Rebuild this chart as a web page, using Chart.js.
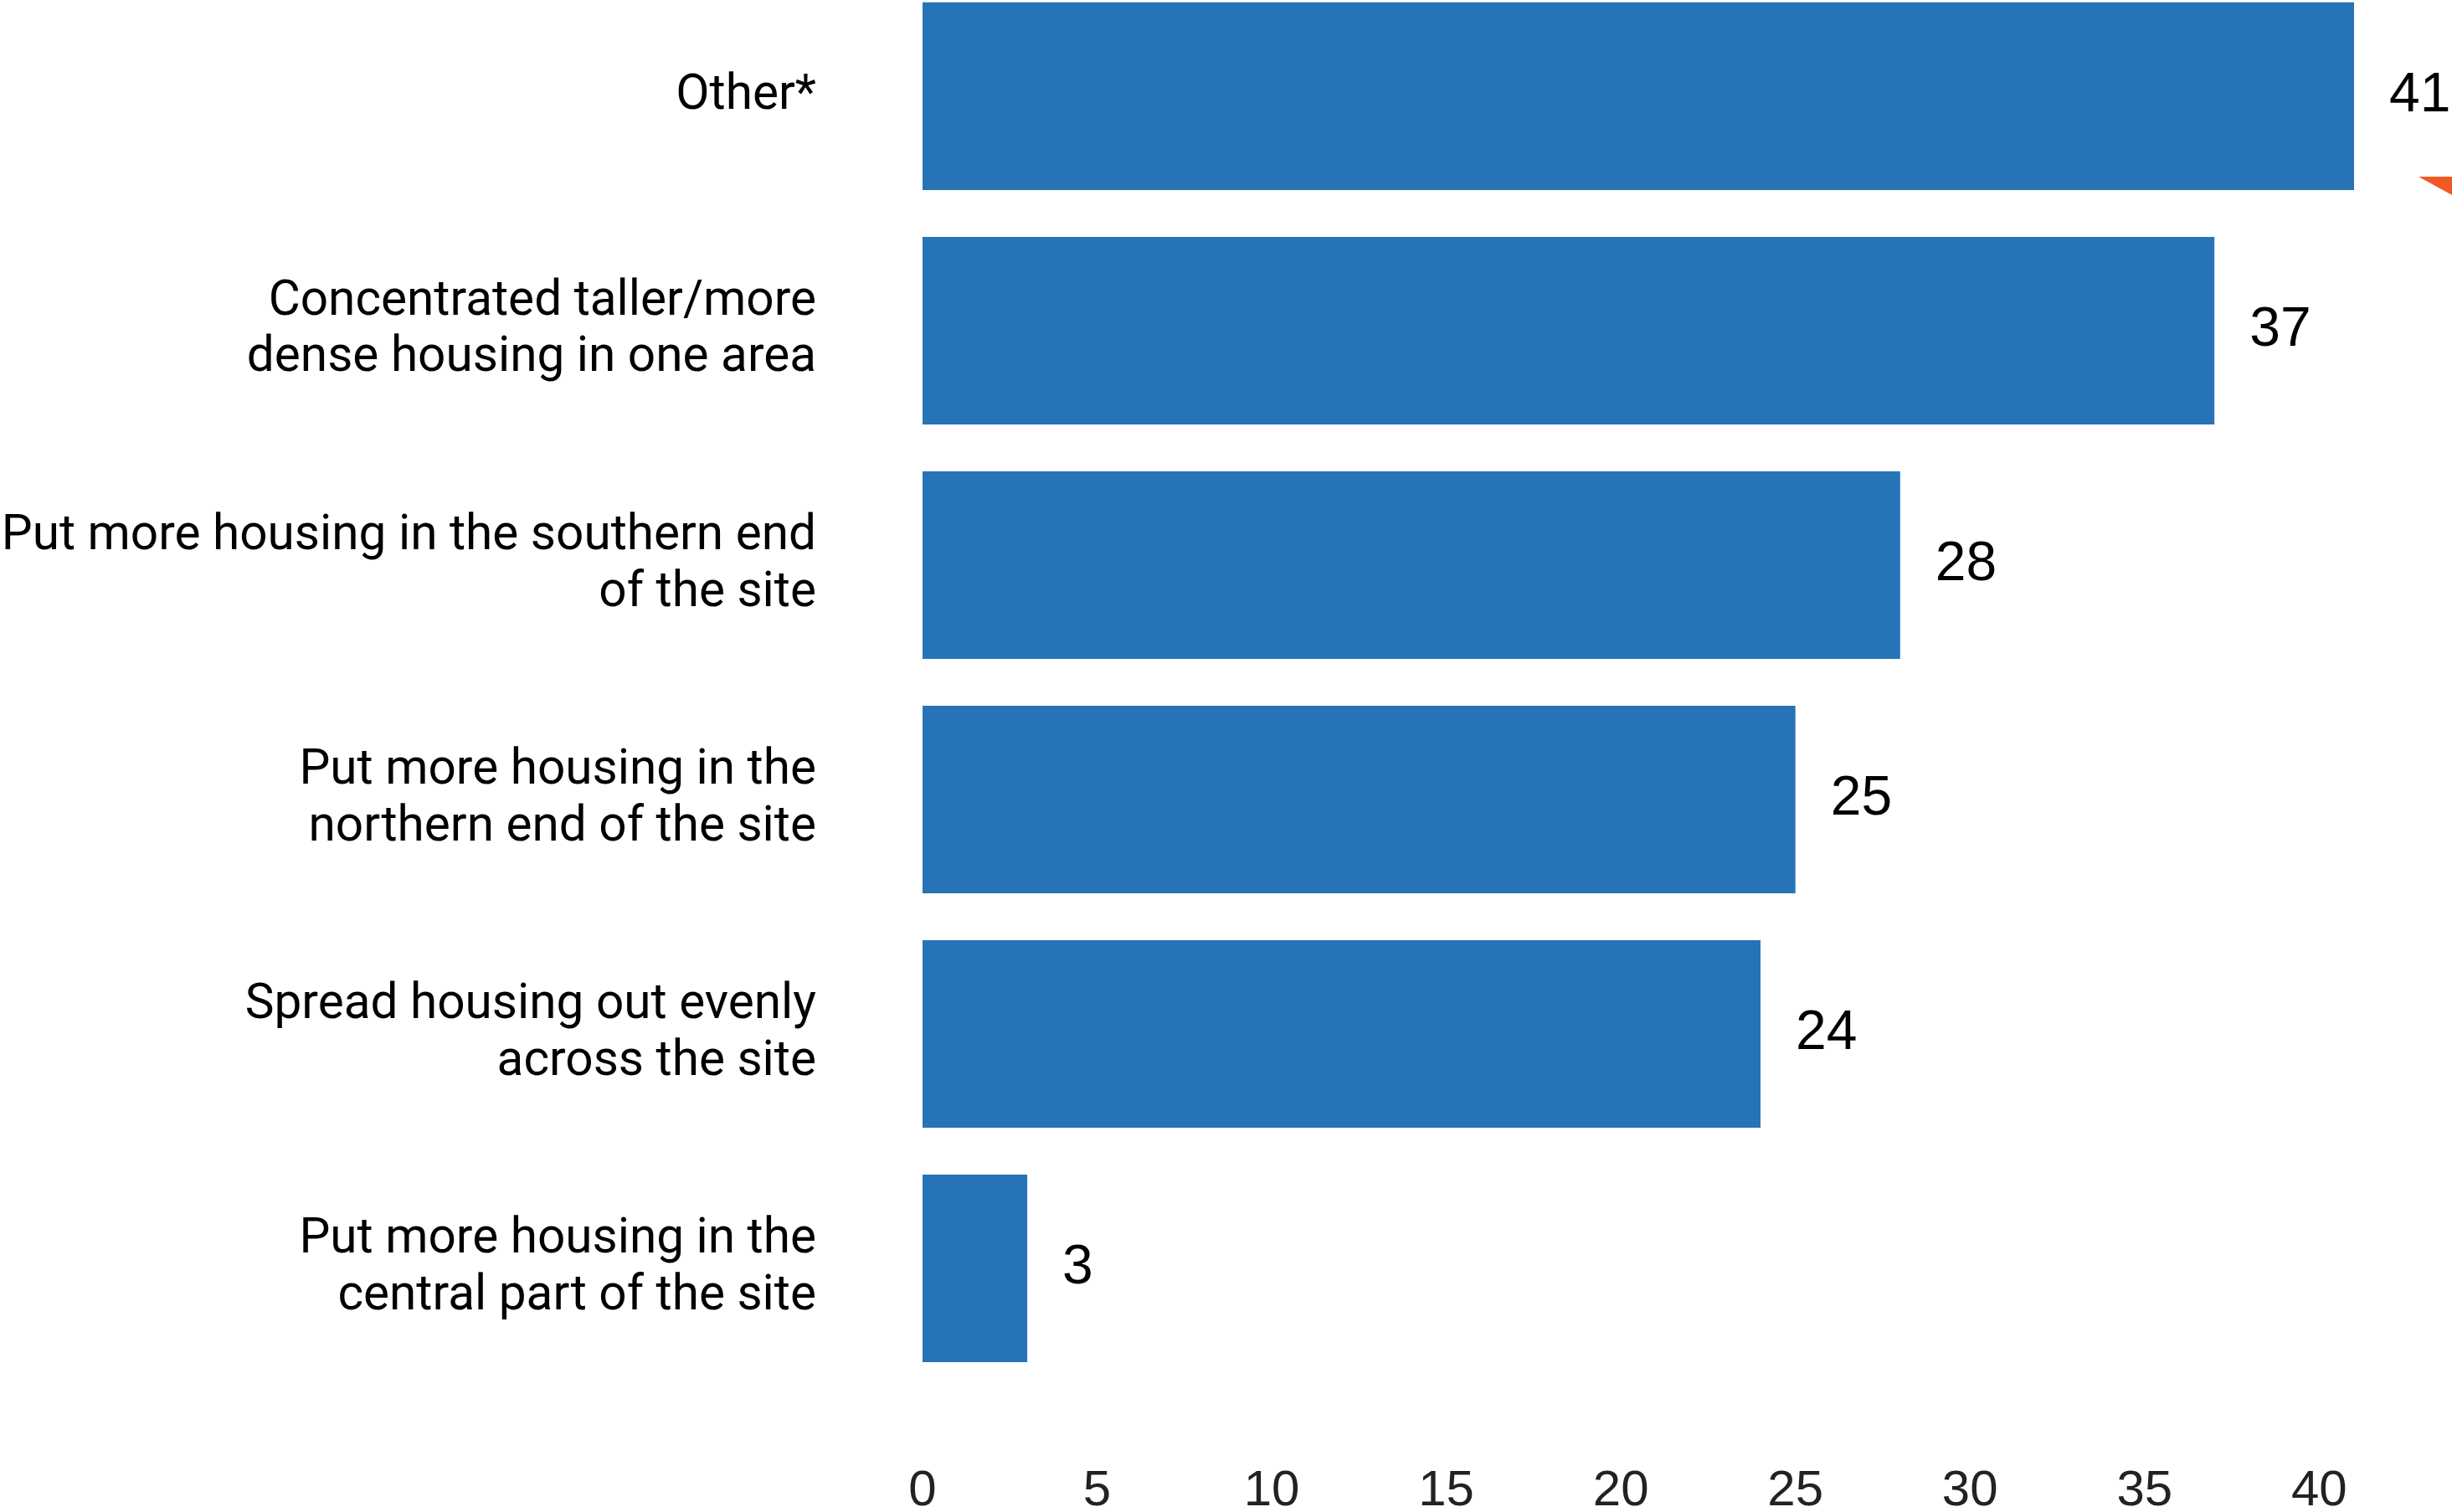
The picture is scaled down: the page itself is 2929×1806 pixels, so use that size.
<!DOCTYPE html>
<html lang="en">
<head>
<meta charset="UTF-8">
<title>Housing distribution preferences</title>
<script src="https://cdn.jsdelivr.net/npm/chart.js"></script>
<style>
  html, body { margin: 0; padding: 0; background: #fff; overflow: hidden; }
  /* the first bar is cut off at the top of the picture, so the canvas starts above the page */
  #chart { position: absolute; left: 0; top: -220px; }
</style>
</head>
<body>
<canvas id="chart" width="2929" height="2036"></canvas>
<script>
// data
const categories = [
  ['Other*'],
  ['Concentrated taller/more', 'dense housing in one area'],
  ['Put more housing in the southern end', 'of the site'],
  ['Put more housing in the', 'northern end of the site'],
  ['Spread housing out evenly', 'across the site'],
  ['Put more housing in the', 'central part of the site']
];
const counts = [41, 37, 28, 25, 24, 3];
const tickValues = [0, 5, 10, 15, 20, 25, 30, 35, 40];

const barColor = '#2773b8';
const shift = 220; // canvas sits this far above the page top

// numbers at the end of each bar
const valueLabels = {
  id: 'valueLabels',
  afterDatasetsDraw(chart) {
    const { ctx } = chart;
    const meta = chart.getDatasetMeta(0);
    ctx.save();
    ctx.font = '66px "Liberation Sans", Arial, sans-serif';
    ctx.fillStyle = '#000';
    ctx.textAlign = 'left';
    ctx.textBaseline = 'middle';
    meta.data.forEach((bar, i) => {
      ctx.fillText(String(counts[i]), bar.x + 42, bar.y);
    });
    ctx.restore();
  }
};

// small orange corner marker, cut off at the right edge
const cornerMark = {
  id: 'cornerMark',
  afterDraw(chart) {
    const { ctx, width } = chart;
    ctx.save();
    ctx.fillStyle = '#f15a24';
    ctx.beginPath();
    ctx.moveTo(width - 40, shift + 211);
    ctx.lineTo(width, shift + 211);
    ctx.lineTo(width, shift + 233);
    ctx.closePath();
    ctx.fill();
    ctx.restore();
  }
};

new Chart(document.getElementById('chart'), {
  type: 'bar',
  data: {
    labels: categories,
    datasets: [{
      data: counts,
      backgroundColor: barColor,
      borderWidth: 0,
      categoryPercentage: 0.8,
      barPercentage: 1.0
    }]
  },
  plugins: [valueLabels, cornerMark],
  options: {
    indexAxis: 'y',
    responsive: false,
    animation: false,
    layout: { padding: { left: 0, right: 117, top: 0, bottom: 0 } },
    plugins: { legend: { display: false }, tooltip: { enabled: false } },
    scales: {
      x: {
        min: 0,
        max: 41,
        grid: { display: false, drawTicks: false },
        border: { display: false },
        afterBuildTicks(scale) {
          scale.ticks = tickValues.map(v => ({ value: v }));
        },
        afterFit(scale) { scale.height = 150; },
        ticks: {
          padding: 90,
          color: '#222',
          font: { family: '"Liberation Sans", Arial, sans-serif', size: 60 }
        }
      },
      y: {
        grid: { display: false, drawTicks: false },
        border: { display: false },
        afterFit(scale) { scale.width = 1102; },
        ticks: {
          padding: 127,
          color: '#000',
          font: { family: 'Roboto, sans-serif', size: 58.5, lineHeight: 1.16 }
        }
      }
    }
  }
});
</script>
</body>
</html>
